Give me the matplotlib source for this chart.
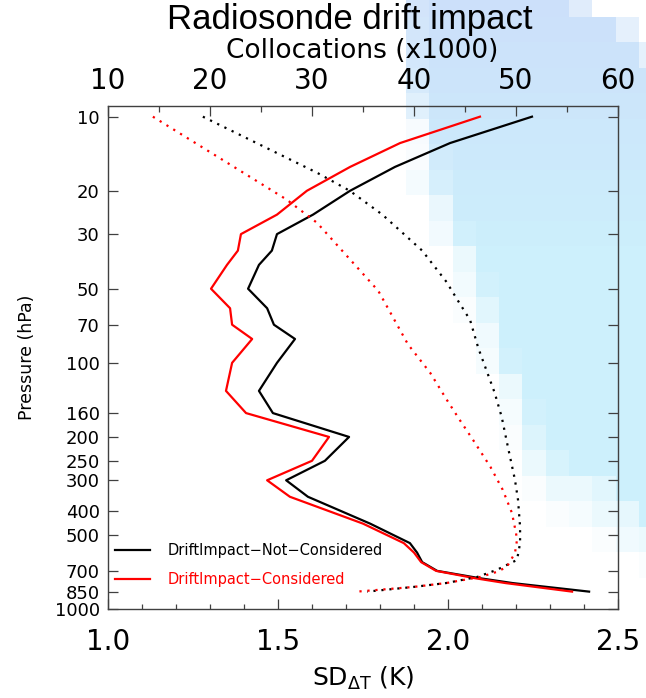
import matplotlib
matplotlib.use("Agg")
import matplotlib.pyplot as plt
import numpy as np
from matplotlib.ticker import FixedLocator, NullLocator, MultipleLocator

# ---------------------------------------------------------------- data
# solid lines: SD of temperature difference (bottom axis) vs pressure
p_solid = [10, 12.8, 16, 20, 25, 30, 35, 40, 50, 60, 70, 80, 100, 130, 160,
           200, 250, 300, 350, 450, 540, 590, 645, 700, 750, 785, 850]
sd_not_considered = [2.247, 2.006, 1.844, 1.712, 1.603, 1.497, 1.482, 1.444, 1.412,
                     1.468, 1.488, 1.550, 1.497, 1.444, 1.485, 1.709, 1.638, 1.524,
                     1.588, 1.771, 1.888, 1.909, 1.924, 1.968, 2.094, 2.191, 2.415]
sd_considered = [2.094, 1.859, 1.712, 1.585, 1.497, 1.391, 1.382, 1.350, 1.303,
                 1.359, 1.365, 1.424, 1.365, 1.347, 1.406, 1.650, 1.600, 1.468,
                 1.535, 1.750, 1.870, 1.900, 1.921, 1.965, 2.080, 2.170, 2.365]

# dotted lines: number of collocations (x1000, top axis) vs pressure
p_col_nc = [10, 16.9, 20, 25, 35, 47, 55, 67, 87, 132, 166, 219, 299, 361, 464,
            540, 632, 694, 741, 784, 814, 850]
col_not_considered = [19.3, 30.5, 33.7, 36.9, 40.8, 43.2, 44.2, 45.5, 46.3, 47.9,
                      48.6, 49.2, 49.9, 50.2, 50.4, 50.4, 50.1, 48.1, 46.2, 43.2,
                      39.9, 35.4]
p_col_c = [10, 21.7, 27, 51, 84, 110, 141, 171, 206, 265, 328, 407, 491, 524, 592,
           675, 707, 741, 784, 814, 850]
col_considered = [14.4, 27.5, 30.5, 36.5, 39.4, 41.6, 43.2, 44.5, 45.8, 47.5, 48.7,
                  49.6, 50.0, 50.1, 49.9, 49.1, 48.1, 46.5, 43.2, 39.9, 34.4]

p_ticks = [10, 20, 30, 50, 70, 100, 160, 200, 250, 300, 400, 500, 700, 850, 1000]
sd_ticks = [1.0, 1.5, 2.0, 2.5]
col_ticks = [10, 20, 30, 40, 50, 60]

# blocky blue backdrop (cell intensities, 0 = white, 1 = full tint)
backdrop = [
    [0.85, 1, 1, 1, 1, 1, 1, 0.6, 0, 0, 0],
    [0.85, 1, 1, 1, 1, 1, 1, 1, 1, 0.5, 0],
    [0.85, 1, 1, 1, 1, 1, 1, 1, 1, 1, 0.5],
    [0.8, 1, 1, 1, 1, 1, 1, 1, 1, 1, 1],
    [0.6, 1, 1, 1, 1, 1, 1, 1, 1, 1, 1],
    [0.15, 1, 1, 1, 1, 1, 1, 1, 1, 1, 1],
    [0.1, 0.9, 1, 1, 1, 1, 1, 1, 1, 1, 1],
    [0.2, 0.8, 1, 1, 1, 1, 1, 1, 1, 1, 1],
    [0, 0.4, 1, 1, 1, 1, 1, 1, 1, 1, 1],
    [0, 0.25, 0.9, 1, 1, 1, 1, 1, 1, 1, 1],
    [0, 0, 0.4, 1, 1, 1, 1, 1, 1, 1, 1],
    [0, 0, 0.25, 0.9, 1, 1, 1, 1, 1, 1, 1],
    [0, 0, 0.1, 0.6, 1, 1, 1, 1, 1, 1, 1],
    [0, 0, 0, 0.3, 1, 1, 1, 1, 1, 1, 1],
    [0, 0, 0, 0.2, 0.9, 1, 1, 1, 1, 1, 1],
    [0, 0, 0, 0, 0.4, 1, 1, 1, 1, 1, 1],
    [0, 0, 0, 0, 0.2, 0.9, 1, 1, 1, 1, 1],
    [0, 0, 0, 0, 0.1, 0.7, 1, 1, 1, 1, 1],
    [0, 0, 0, 0, 0, 0.4, 0.8, 1, 1, 1, 1],
    [0, 0, 0, 0, 0, 0.1, 0.4, 0.4, 0.6, 1, 1],
    [0, 0, 0, 0, 0, 0, 0.1, 0.2, 0.4, 0.5, 1],
    [0, 0, 0, 0, 0, 0, 0, 0, 0.1, 0.3, 0.4],
    [0, 0, 0, 0, 0, 0, 0, 0, 0, 0, 0.1],
]

W, H = 646, 698
fig = plt.figure(figsize=(W / 100, H / 100), dpi=100)
fig.patch.set_facecolor("white")

# backdrop in pixel coordinates
bg = fig.add_axes([0, 0, 1, 1], zorder=0)
bg.set_xlim(0, W); bg.set_ylim(H, 0); bg.axis("off")
inten = np.array(backdrop, dtype=float)
nrow, ncol = inten.shape
top_c = np.array([204, 224, 250]) / 255
low_c = np.array([205, 240, 252]) / 255
frac = np.clip(np.arange(nrow) / 10.0, 0, 1)[:, None, None]
base = top_c * (1 - frac) + low_c * frac
rgb = 1 - inten[:, :, None] * (1 - base)
cw, ch, x0, y0 = 23.3, 25.5, 406, -8.5
bg.imshow(rgb, extent=(x0, x0 + ncol * cw, y0 + nrow * ch, y0),
          interpolation="nearest", aspect="auto")

# main axes
ax = fig.add_axes([108 / W, 1 - 609 / H, 510 / W, 503 / H], zorder=2)
ax.set_facecolor("none")
ax.set_yscale("log")
ax.plot(sd_not_considered, p_solid, color="black", lw=1.6,
        label="DriftImpact\u2212Not\u2212Considered")
ax.plot(sd_considered, p_solid, color="red", lw=1.6,
        label="DriftImpact\u2212Considered")
ax.set_ylim(1000, 9.05)
ax.set_xlim(1.0, 2.5)
ax.yaxis.set_major_locator(FixedLocator(p_ticks))
ax.yaxis.set_minor_locator(NullLocator())
ax.set_yticklabels([str(v) for v in p_ticks])
ax.set_xticks(sd_ticks)
ax.set_xticklabels([f"{v:.1f}" for v in sd_ticks])
ax.xaxis.set_minor_locator(MultipleLocator(0.1))
ax.tick_params(axis="y", which="major", direction="in", length=7, width=0.9,
               right=True, labelsize=13, pad=6, color="0.25")
ax.tick_params(axis="x", which="major", direction="in", length=7, width=0.9,
               top=False, labelsize=20, pad=14, color="0.25")
ax.tick_params(axis="x", which="minor", direction="in", length=3.5, width=0.9,
               top=False, color="0.25")
for s in ax.spines.values():
    s.set_color("0.25"); s.set_linewidth(1.0)
ax.set_xlabel(r"SD$_{\Delta\mathrm{T}}$ (K)", fontsize=18, labelpad=6)
ax.set_ylabel("Pressure (hPa)", fontsize=12.5, labelpad=13)

leg = ax.legend(loc="upper left", bbox_to_anchor=(7 / 510, (609 - 543) / 503),
                frameon=False, fontsize=10.5, handlelength=2.4,
                handletextpad=1.2, labelspacing=0.95, borderpad=0.0,
                borderaxespad=0.0, labelcolor="linecolor")

# top axis: collocations
ax2 = ax.twiny()
ax2.set_facecolor("none")
ax2.plot(col_not_considered, p_col_nc, color="black", lw=1.6,
         linestyle=(0, (1, 2.6)))
ax2.plot(col_considered, p_col_c, color="red", lw=1.6,
         linestyle=(0, (1, 2.6)))
ax2.set_xlim(10, 60)
ax2.set_xticks(col_ticks)
ax2.xaxis.set_minor_locator(MultipleLocator(5))
ax2.tick_params(axis="x", which="major", direction="in", length=7, width=0.9,
                labelsize=20, pad=8, color="0.25")
ax2.tick_params(axis="x", which="minor", direction="in", length=4, width=0.9,
                color="0.25")
for s in ax2.spines.values():
    s.set_visible(False)

fig.text(362 / W, 1 - 51 / H, "Collocations (x1000)", ha="center", va="center",
         fontsize=19)
fig.text(350 / W, 1 - 20 / H, "Radiosonde drift impact", ha="center", va="center",
         fontsize=25, family="Liberation Sans")

fig.savefig("out.png", dpi=100)
